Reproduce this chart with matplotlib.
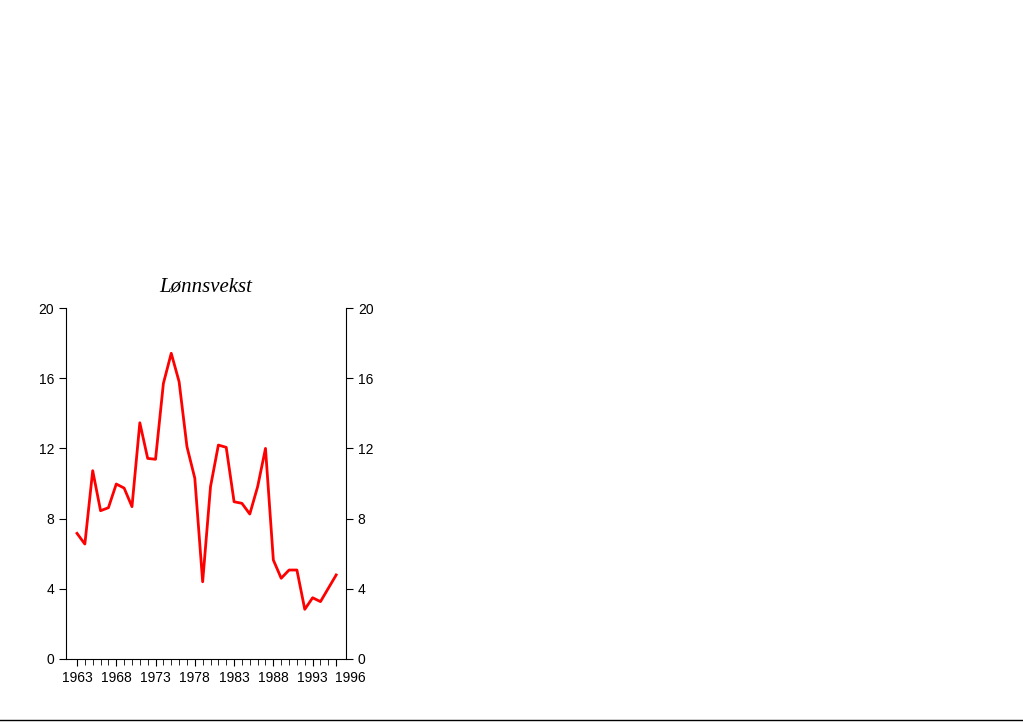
import matplotlib
matplotlib.use("Agg")
import matplotlib.pyplot as plt
from matplotlib.lines import Line2D
import matplotlib.transforms as mtrans

years = list(range(1963, 1997))
values = [7.16, 6.55, 10.73, 8.45, 8.62, 9.97, 9.74, 8.68, 13.46, 11.43, 11.38, 15.7,
          17.42, 15.8, 12.1, 10.3, 4.4, 9.82, 12.19, 12.06, 8.96, 8.87, 8.26, 9.82,
          12.0, 5.64, 4.6, 5.07, 5.07, 2.83, 3.49, 3.27, 4.03, 4.79]
yticks = [0, 4, 8, 12, 16, 20]
xlabels = [1963, 1968, 1973, 1978, 1983, 1988, 1993, 1996]

plt.rcParams['font.family'] = ['Liberation Sans', 'DejaVu Sans']
fig = plt.figure(figsize=(10.23, 7.24), dpi=100)
ax = fig.add_axes([66/1023, 1-659/724, 280/1023, 351/724])
ax.plot(years, values, color="#ff0000", lw=2)
ax.set_xlim(1961.6, 1997.25)
ax.set_ylim(0, 20)
ax.set_yticks(yticks)
ax.set_xticks(years, minor=True)
ax.set_xticks(xlabels)
ax.tick_params(axis="both", which="both", direction="out", labelsize=10, length=5)
ax.tick_params(axis="y", right=True, labelright=True)
ax.tick_params(axis="x", which="minor", length=4)
ax.spines["top"].set_visible(False)
lab = ax.get_xticklabels()[-1]
lab.set_transform(lab.get_transform() + mtrans.ScaledTranslation(14/100, 0, fig.dpi_scale_trans))
ax.set_title("Lønnsvekst", family="Liberation Serif", style="italic", fontsize=15, pad=12)
fig.add_artist(Line2D([0, 1], [1-720/724, 1-720/724], color="black", lw=1, transform=fig.transFigure))
fig.savefig("out.png", dpi=100)
